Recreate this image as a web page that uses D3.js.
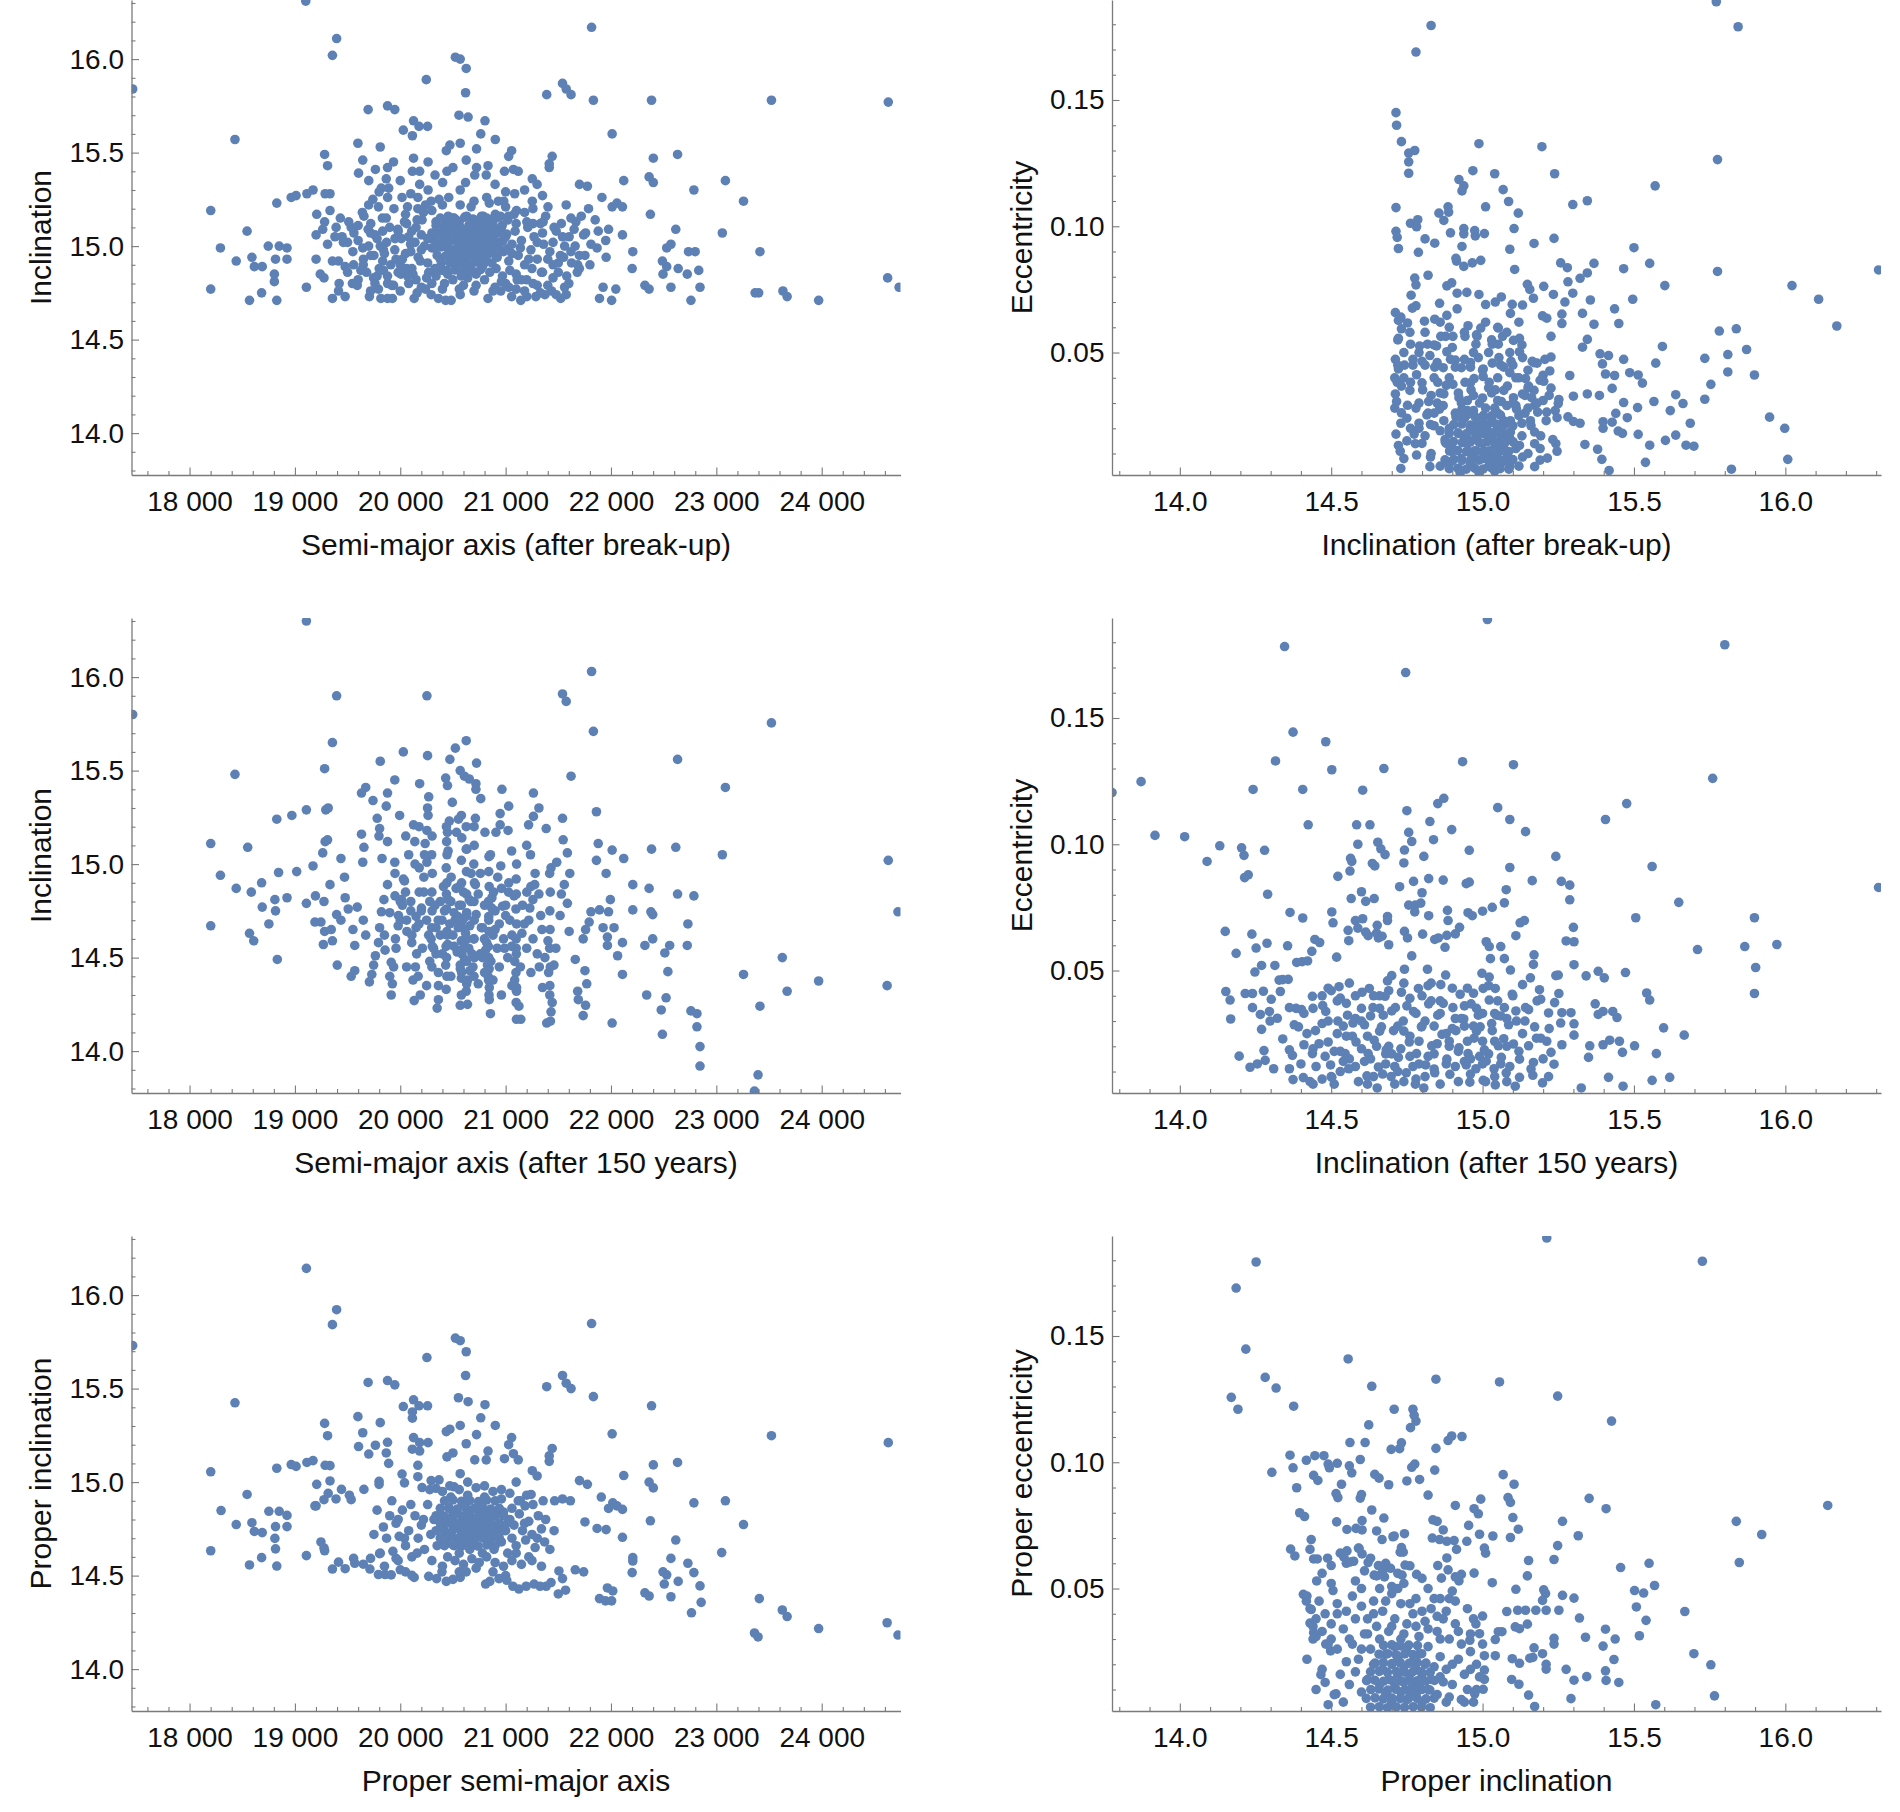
<!DOCTYPE html>
<html>
<head>
<meta charset="utf-8">
<script src="https://cdn.jsdelivr.net/npm/d3@7"></script>
<style>
  body { margin: 0; background: #fff; }
  svg { display: block; font-family: "Liberation Sans", Arial, Helvetica, sans-serif; }
</style>
</head>
<body>
<svg id="chart" width="1900" height="1812"></svg>
<script>
// ---------------------------------------------------------------
//    DATA
// ---------------------------------------------------------------

// axis ranges and ticks
const semiMajorRange = [17449, 24748];
const incRange = [13.776, 16.316];
const eccRange = [0.0015, 0.1896];
const semiMajorTicks = [18000, 19000, 20000, 21000, 22000, 23000, 24000];
const incTicks = [14.0, 14.5, 15.0, 15.5, 16.0];
const eccTicks = [0.05, 0.10, 0.15];

// semi-major axis vs inclination, after break-up
const breakupSemiMajorInc = [
[19103,16.31],[19396,16.11],[19356,16.02],[17460,15.84],[20523,16.01],[20569,16.0],[20626,15.95],[20247,15.89],[21816,16.17],[21540,15.87],[21575,15.84],[21621,15.81],[21390,15.81],[20620,15.82],[21833,15.78],[22385,15.78],[23523,15.78],[24632,15.77],[19695,15.73],[19879,15.75],[19948,15.73],[20557,15.70],[20644,15.69],[20804,15.67],[20126,15.67],[20178,15.64],[20259,15.64],[20029,15.62],[20115,15.59],[20764,15.60],[22011,15.60],[20902,15.57],[18431,15.57],[19598,15.55],[19810,15.53],[20569,15.55],[20471,15.54],[20437,15.51],[20724,15.52],[21057,15.51],[19282,15.49],[21442,15.48],[22632,15.49],[22402,15.47],[19644,15.46],[20126,15.47],[20626,15.46],[21029,15.48],[19310,15.43],[20264,15.45],[20724,15.42],[20833,15.43],[21414,15.44],[21414,15.42],[19604,15.39],[19764,15.41],[19936,15.45],[19879,15.42],[20115,15.40],[20184,15.40],[20443,15.40],[20500,15.42],[20707,15.38],[20816,15.38],[20989,15.40],[21074,15.41],[21120,15.40],[19867,15.36],[19701,15.35],[22121,15.35],[22362,15.37],[22402,15.34],[23086,15.35],[21253,15.36],[21299,15.33],[20184,15.33],[20402,15.34],[21701,15.33],[21776,15.32],[19890,15.31],[19799,15.29],[20264,15.30],[20569,15.30],[22787,15.30],[19011,15.27],[18965,15.26],[19114,15.28],[19172,15.30],[19287,15.28],[19333,15.28],[21086,15.28],[20017,15.26],[20167,15.26],[20293,15.24],[20368,15.25],[21914,15.26],[23258,15.24],[22011,15.21],[22057,15.23],[22109,15.21],[18828,15.23],[18201,15.19],[19333,15.19],[19793,15.21],[20069,15.21],[20167,15.20],[20569,15.22],[20672,15.21],[20931,15.24],[20982,15.24],[21253,15.24],[21402,15.21],[21575,15.22],[21787,15.20],[20845,15.23],[21103,15.19],[21259,15.20],[21718,15.16],[22374,15.17],[19207,15.17],[19655,15.16],[19867,15.15],[20040,15.13],[20207,15.14],[20339,15.13],[20511,15.15],[20787,15.16],[20902,15.17],[21028,15.16],[21201,15.13],[21356,15.13],[21529,15.12],[21667,15.13],[19282,15.13],[19431,15.15],[19511,15.13],[19264,15.09],[19391,15.10],[19534,15.10],[18546,15.08],[19201,15.06],[19448,15.05],[19695,15.09],[19718,15.07],[19833,15.08],[19977,15.09],[20109,15.08],[21977,15.09],[22109,15.06],[22615,15.09],[23057,15.07],[21879,15.08],[21759,15.07],[21603,15.05],[19310,15.01],[19644,14.99],[19810,15.00],[19948,14.98],[20098,15.01],[18747,15.00],[18851,15.00],[18925,14.99],[18293,14.99],[19201,14.93],[19356,14.92],[19414,14.92],[18443,14.92],[18592,14.94],[18816,14.93],[18925,14.93],[18615,14.89],[18690,14.89],[19477,14.89],[19557,14.90],[19649,14.90],[19833,14.92],[20000,14.90],[18805,14.85],[18805,14.81],[19241,14.85],[19276,14.83],[19626,14.87],[19747,14.83],[19879,14.84],[20006,14.85],[21626,14.91],[21684,14.90],[21753,14.95],[21868,14.99],[21954,14.94],[22207,14.97],[22201,14.88],[22488,14.92],[22529,14.89],[22529,14.99],[22569,15.01],[22638,14.88],[22736,14.97],[22799,14.97],[22833,14.87],[22724,14.85],[22494,14.85],[18201,14.77],[19109,14.78],[19356,14.72],[18569,14.71],[18684,14.75],[18828,14.71],[19414,14.76],[19477,14.73],[19546,14.80],[19592,14.79],[19718,14.76],[19793,14.77],[19816,14.72],[19879,14.72],[19925,14.72],[19707,14.73],[19936,14.79],[20000,14.76],[20132,14.72],[20293,14.74],[20362,14.72],[20431,14.71],[20483,14.71],[20569,14.74],[20833,14.72],[20954,14.76],[21057,14.73],[21144,14.71],[21201,14.73],[21287,14.73],[21373,14.74],[21436,14.76],[21523,14.72],[21575,14.74],[21891,14.72],[22006,14.71],[21925,14.78],[22046,14.77],[22322,14.79],[22362,14.77],[22569,14.78],[22759,14.71],[22845,14.78],[23368,14.75],[23402,14.75],[23632,14.76],[23672,14.73],[23971,14.71],[24626,14.83],[24735,14.78],[23414,14.97],[21810,15.01],
[20420,15.00],[20440,15.06],[20460,14.95],[20480,15.03],[20500,15.09],[20510,14.98],[20530,15.04],[20545,14.93],[20560,15.01],[20575,15.07],[20590,14.97],[20600,15.03],[20615,14.91],[20630,15.00],[20640,15.06],[20655,14.95],[20670,15.02],[20680,15.10],[20690,14.98],[20700,15.05],[20715,14.92],[20725,15.01],[20740,15.08],[20750,14.96],[20760,15.03],[20775,14.99],[20790,15.06],[20800,14.93],[20815,15.01],[20830,15.09],[20845,14.97],[20860,15.04],[20880,14.99],[20900,15.07],[20920,14.94],[20940,15.02],[20960,15.10],[20980,14.97],[21000,15.05],[21030,14.92],[21060,15.01],[21090,15.08],[21120,14.95],[21150,15.03],[21180,14.90],[21210,15.10],[21240,14.98],[21270,15.05],[21300,14.93],[21330,15.12],[21360,15.01],[20380,14.93],[20350,15.07],[20320,14.99],[20290,15.04],[20260,14.91],[20230,15.00],[20200,15.06],[20170,14.94],[20140,15.02],[20110,14.88],[20400,14.87],[20450,14.85],[20520,14.88],[20580,14.84],[20650,14.88],[20720,14.85],[20780,14.89],[20850,14.86],[20910,14.88],[20970,14.84],[21040,14.87],[21100,14.85],[20430,15.12],[20500,15.15],[20560,15.13],[20630,15.16],[20700,15.14],[20760,15.12],[20820,15.15],[20880,15.13],[20950,15.16],[21020,15.14],[21080,15.17],
[20200,14.78],[20300,14.80],[20400,14.77],[20600,14.79],[20700,14.76],[20900,14.78],[21000,14.80],[21100,14.77],[21200,14.82],[21300,14.79],[21450,14.83],[21500,14.86],[21600,14.80],[21680,14.86],[20150,14.82],[21350,14.86],[21520,14.95],[21450,15.02],[21560,15.00],[21620,14.97],[21480,15.08],[21400,14.93],[19700,15.00],[19750,14.95],[19850,14.96],[19950,15.04],[20050,14.96],[19600,15.03],[19550,14.97],[19500,15.02],
[20380,15.15],[20455,15.16],[20530,15.14],[20612,15.155],[20690,15.145],[20772,15.16],[20850,15.14],[20930,15.155],
[20340,15.11],[20412,15.105],[20492,15.115],[20570,15.10],[20652,15.112],[20728,15.105],[20812,15.11],[20890,15.10],[20968,15.112],
[20300,15.07],[20372,15.065],[20452,15.075],[20530,15.068],[20610,15.072],[20692,15.062],[20770,15.074],[20852,15.066],[20930,15.07],[21010,15.064],
[20330,15.03],[20410,15.028],[20492,15.034],[20572,15.026],[20650,15.032],[20732,15.028],[20810,15.034],[20890,15.03],[20972,15.026],
[20300,14.99],[20382,14.995],[20460,14.985],[20542,14.992],[20620,14.988],[20702,14.994],[20780,14.986],[20862,14.992],[20940,14.99],[21020,14.985],
[20350,14.95],[20432,14.948],[20510,14.955],[20592,14.945],[20670,14.952],[20752,14.948],[20830,14.955],[20910,14.946],
[20390,14.91],[20472,14.912],[20550,14.905],[20632,14.91],[20710,14.914],[20792,14.906],[20870,14.91],
[20440,14.87],[20520,14.872],[20602,14.866],[20680,14.87],[20762,14.874],
[19720,15.12],[19780,15.04],[19840,14.98],[19900,15.10],[19960,14.93],[20010,15.04],[20060,15.12],[20100,14.97],[20150,15.10],[20190,14.92],[20220,15.18],[20260,15.04],[21060,14.96],[21100,15.12],[21140,14.99],[21180,15.18],[21220,14.93],[21260,15.12],[21300,15.02],[21340,14.86],[21380,15.16],[21420,14.97],[21460,15.10],[21500,14.91],[21540,15.05],[21580,14.84],[21620,15.15],[21660,15.00],[21700,14.88],[21740,15.06],[20250,14.83],[20330,14.88],[20420,14.80],[20500,14.82],[20560,14.77],[20640,14.83],[20720,14.79],[20800,14.82],[20880,14.76],[20960,14.81],[21030,14.78],[21110,14.82],[21180,14.76],[21260,14.80],[21330,14.75],[21400,14.79],[21480,14.74],[21560,14.78],[19600,14.82],[19680,14.86],[19760,14.80],[19840,14.87],[19920,14.79],[20080,14.80],[20160,14.75],[20240,14.77],[20060,14.88],[19500,14.86],[19420,14.80],[19380,15.05],[19460,15.02],[19560,15.07],[19640,15.18],[19740,15.25],[19820,15.31],[20000,15.35],[20330,15.38],[20620,15.34],[20900,15.33],[21180,15.30],[21350,15.27],[20460,15.26],[20820,15.26],[21000,15.29],
[19720,14.95],[19760,15.06],[19800,14.88],[19830,15.15],[19870,15.02],[19910,14.90],[19940,15.20],[19980,15.08],[20020,14.93],[20050,15.17],[20080,15.05],[20120,14.85],[20160,15.14],[20200,14.98],[20240,15.22],[20270,14.86],[20300,15.19],[20340,14.84],[19780,14.84],[19880,14.80],[19980,14.86],[20070,14.84],[19650,14.93],[19600,15.11],[19700,15.22],[19880,15.26],[20100,15.28],[20400,15.22],[20700,15.24],[21000,15.21],[21150,14.82],[21250,14.88],[21350,15.07],[21450,14.90],[21550,14.94],[21650,15.09],[21700,14.95],[21800,14.90],[21850,15.14],[21950,15.03]
];

// inclination vs eccentricity, after break-up
const breakupIncEcc = [
[15.772,0.1889],[14.83,0.1795],[15.844,0.179],[14.78,0.169],[14.714,0.145],[14.716,0.140],[14.732,0.1335],[14.756,0.129],[14.776,0.130],[14.756,0.1255],[14.756,0.121],[14.988,0.1327],[15.196,0.1315],[14.968,0.122],[15.04,0.1208],[15.238,0.1208],[15.776,0.1264],[15.57,0.116],[14.922,0.1185],[14.938,0.116],[14.932,0.114],[15.068,0.1145],[15.086,0.1098],[15.298,0.1086],[15.346,0.1101],[15.01,0.1077],[15.118,0.1052],[14.714,0.1074],[14.856,0.1052],[14.886,0.1077],[14.888,0.1056],[14.872,0.1023],[14.786,0.1026],[14.762,0.1012],[14.782,0.0998],[14.714,0.098],[14.718,0.0956],[14.722,0.0912],[14.788,0.0897],[14.81,0.095],[14.842,0.0933],[14.894,0.0974],[14.938,0.0991],[14.938,0.097],[14.974,0.0983],[14.976,0.0962],[15.006,0.0971],[15.104,0.0991],[15.17,0.0932],[15.236,0.0952],[15.09,0.0909],[14.932,0.092],[14.912,0.0873],[14.914,0.0862],[14.938,0.0841],[14.966,0.0855],[14.994,0.0865],[15.106,0.0829],[15.258,0.0855],[15.28,0.0836],[15.368,0.0853],[15.466,0.0832],[15.552,0.0853],[15.5,0.0915],[15.776,0.0821],[16.308,0.0827],[16.022,0.0765],[16.11,0.0711],[16.17,0.0605],[15.602,0.0765],[15.496,0.0711],[15.322,0.0794],[15.346,0.0815],[15.282,0.0780],[15.202,0.0762],[15.234,0.073],[15.298,0.0735],[15.156,0.075],[15.148,0.077],[15.168,0.0715],[15.132,0.0688],[15.098,0.0691],[15.062,0.072],[15.042,0.070],[15.01,0.069],[14.988,0.073],[14.948,0.0738],[14.916,0.0735],[14.898,0.0776],[14.882,0.0764],[14.82,0.0806],[14.776,0.0795],[14.78,0.0768],[14.764,0.0727],[14.858,0.0695],[14.78,0.0685],[14.768,0.0676],[14.712,0.0658],[14.722,0.0627],[14.732,0.0594],[14.752,0.0617],[14.808,0.0624],[14.842,0.0632],[14.882,0.0647],[14.916,0.0673],[14.952,0.0606],[14.994,0.0597],[15.052,0.0597],[15.092,0.0655],[15.198,0.0645],[15.212,0.0636],[15.262,0.0652],[15.262,0.0615],[15.33,0.0655],[15.368,0.0612],[15.45,0.0615],[15.436,0.0673],[15.356,0.0708],[15.272,0.070],[15.226,0.0564],[15.346,0.0552],[15.33,0.0521],[15.388,0.0495],[15.416,0.0488],[15.396,0.0455],[15.466,0.0473],[15.572,0.0458],[15.594,0.0524],[15.782,0.0585],[15.838,0.0594],[15.872,0.0512],[15.81,0.0492],[15.734,0.0477],[15.81,0.0423],[15.898,0.0411],[15.754,0.0374],[15.734,0.0315],[15.638,0.0333],[15.662,0.0298],[15.62,0.027],[15.686,0.022],[15.638,0.0173],[15.604,0.0152],[15.672,0.0133],[15.698,0.0129],[15.948,0.0244],[15.998,0.020],[16.008,0.0077],[15.822,0.0038],[15.538,0.0065],[15.552,0.0133],[15.514,0.0176],[15.466,0.0302],[15.512,0.0282],[15.566,0.0306],[15.528,0.0379],[15.514,0.0411],[15.486,0.042],[15.436,0.0409],[15.406,0.0415],[15.428,0.0358],[15.386,0.033],[15.346,0.0336],[15.3,0.0327],[15.288,0.0409],[15.44,0.0259],[15.478,0.0242],[15.398,0.0226],[15.428,0.0224],[15.398,0.020],[15.448,0.0189],[15.462,0.018],[15.338,0.0136],[15.38,0.0117],[15.394,0.0077],[15.418,0.0033],[15.322,0.022],[15.3,0.0227],[15.282,0.0245],[15.246,0.0242],[15.25,0.0298],[15.252,0.0314],[15.226,0.0359],[15.202,0.0386],[15.222,0.0427],[15.19,0.039],[15.226,0.0482],[15.206,0.0473],[15.18,0.0458],[15.164,0.0465],[15.132,0.048],[15.122,0.0503],[15.102,0.0548],[15.122,0.0556],[15.066,0.0564],[15.052,0.0533],[15.032,0.0533],[14.978,0.0533],[14.982,0.0564],[14.942,0.0564],[14.902,0.0564],[14.878,0.0564],[14.862,0.0564],[14.848,0.0526],[14.818,0.0533],[14.792,0.0526],[14.762,0.0533],[14.722,0.0556],[14.712,0.0473],[14.722,0.0435],[14.742,0.045],[14.77,0.0473],[14.80,0.0465],[14.826,0.0488],[14.842,0.0442],[14.882,0.0503],[14.894,0.0473],[14.91,0.0442],[14.94,0.0473],[14.96,0.0442],[14.986,0.048],[15.002,0.0435],[15.032,0.0458],[15.054,0.048],[15.07,0.0442],[15.09,0.042],[15.094,0.0465],[15.142,0.0397],[15.152,0.0367],[15.132,0.0336],[15.162,0.0321],[15.172,0.0291],[15.182,0.0264],[15.212,0.0264],[15.158,0.023],[15.172,0.0185],[15.192,0.017],[15.232,0.0155],[15.242,0.0139],[15.172,0.0139],[15.122,0.0132],[15.132,0.0086],[15.172,0.0048],[15.19,0.0074],[15.214,0.0082],[15.246,0.0109],[14.712,0.0336],[14.716,0.0306],[14.714,0.0177],[14.722,0.0132],[14.728,0.0109],[14.73,0.0041],[14.718,0.0382],[14.732,0.0367],[14.762,0.0382],[14.782,0.0412],[14.732,0.0261],[14.752,0.0291],[14.762,0.020],[14.774,0.0177],[14.778,0.0139],[14.782,0.0094],[14.802,0.0352],[14.822,0.0306],[14.816,0.0253],[14.828,0.0215],[14.828,0.0086],[14.826,0.0048],[14.852,0.0382],[14.872,0.0336],[14.858,0.0276],[14.872,0.023],[14.876,0.0155],[14.882,0.0064],[14.898,0.0109],[14.926,0.0024],[14.902,0.0374],[14.922,0.0321],[14.932,0.0276],[14.912,0.0245],[14.942,0.0382],[14.972,0.0397],[14.962,0.0352],[15.002,0.0405],[15.022,0.0382],[15.042,0.0352],[15.062,0.0306],[15.082,0.0367],[15.102,0.0321],[15.112,0.0276],[15.092,0.023],[15.092,0.0185],[15.072,0.0139],[15.052,0.0079],[15.032,0.0048],[14.988,0.0026],[14.962,0.0064],[14.952,0.0109],[14.952,0.0155],[14.982,0.023],
[14.90,0.012],[14.92,0.018],[14.93,0.008],[14.94,0.024],[14.95,0.014],[14.96,0.020],[14.96,0.006],[14.97,0.027],[14.98,0.011],[14.98,0.017],[14.99,0.023],[15.00,0.008],[15.00,0.014],[15.01,0.020],[15.01,0.028],[15.02,0.005],[15.02,0.011],[15.03,0.017],[15.03,0.024],[15.04,0.009],[15.04,0.014],[15.05,0.020],[15.05,0.026],[15.06,0.012],[15.06,0.006],[15.07,0.018],[15.07,0.023],[15.08,0.010],[15.09,0.016],[15.10,0.021],[14.91,0.026],[14.93,0.030],[14.95,0.031],[14.97,0.033],[15.00,0.032],[15.03,0.034],[15.05,0.031],[15.08,0.029],[14.89,0.020],[14.88,0.014],[14.90,0.007],[14.92,0.004],[14.99,0.003],[15.04,0.003],[15.09,0.005],[15.11,0.012],[15.12,0.025],[14.94,0.016],[14.98,0.020],[15.02,0.016],[15.00,0.024],[15.06,0.017],[14.97,0.009],[15.03,0.007],
[14.74,0.040],[14.76,0.035],[14.79,0.030],[14.81,0.045],[14.84,0.040],[14.86,0.034],[14.75,0.024],[14.79,0.020],[14.80,0.014],[14.84,0.026],[14.86,0.019],[14.87,0.044],[14.89,0.040],[14.96,0.046],[15.02,0.050],[15.05,0.040],[15.10,0.045],[15.12,0.040],[15.15,0.043],[15.17,0.035],[15.20,0.031],[15.21,0.023],[15.19,0.012],[15.13,0.022],[15.15,0.028],
[14.890,0.0040],[14.919,0.0042],[14.946,0.0038],[14.975,0.0041],[15.002,0.0039],[15.031,0.0042],[15.058,0.0040],[15.087,0.0038],
[14.876,0.0075],[14.905,0.0077],[14.932,0.0073],[14.961,0.0076],[14.988,0.0074],[15.017,0.0077],[15.044,0.0075],[15.073,0.0073],[15.100,0.0076],
[14.891,0.0110],[14.918,0.0112],[14.947,0.0108],[14.974,0.0111],[15.003,0.0109],[15.030,0.0112],[15.059,0.0110],[15.086,0.0108],
[14.877,0.0145],[14.904,0.0147],[14.933,0.0143],[14.960,0.0146],[14.989,0.0144],[15.016,0.0147],[15.045,0.0145],[15.072,0.0143],[15.101,0.0146],
[14.890,0.0180],[14.919,0.0182],[14.946,0.0178],[14.975,0.0181],[15.002,0.0179],[15.031,0.0182],[15.058,0.0180],[15.087,0.0178],
[14.905,0.0215],[14.932,0.0217],[14.961,0.0213],[14.988,0.0216],[15.017,0.0214],[15.044,0.0217],[15.073,0.0215],
[14.918,0.0250],[14.947,0.0252],[14.974,0.0248],[15.003,0.0251],[15.030,0.0249],[15.059,0.0252],
[14.78,0.028],[14.80,0.038],[14.83,0.033],[14.85,0.046],[14.87,0.029],[14.88,0.037],[14.90,0.052],[14.92,0.034],[14.93,0.044],[14.95,0.027],[14.96,0.038],[14.97,0.050],[14.99,0.030],[15.00,0.043],[15.02,0.036],[15.03,0.055],[15.04,0.028],[15.06,0.045],[15.07,0.035],[15.09,0.050],[15.10,0.030],[15.11,0.040],[15.13,0.053],[15.14,0.026],[15.15,0.036],[15.17,0.046],[15.18,0.030],[15.20,0.041],[15.22,0.033],[15.24,0.027],[14.79,0.050],[14.81,0.058],[14.84,0.053],[14.86,0.062],[14.89,0.060],[14.91,0.047],[14.94,0.058],[14.98,0.057],[15.01,0.062],[15.05,0.060],[15.08,0.058],[15.12,0.062],[14.77,0.045],[14.79,0.022],[14.81,0.017],[14.83,0.010],[14.85,0.030],[14.86,0.005],[14.84,0.021],[14.82,0.026],[14.74,0.050],[14.73,0.022],[14.75,0.015],[14.74,0.008],[14.72,0.045],[14.71,0.028],[14.72,0.055],[14.71,0.040],[14.73,0.064],[14.76,0.058],[15.13,0.017],[15.15,0.010],[15.16,0.021],[15.12,0.005],[15.11,0.029],[15.14,0.033]
];

// semi-major axis vs inclination, after 150 years
const yr150SemiMajorInc = [
[19109,16.30],[17460,15.80],[19396,15.90],[20253,15.90],[21816,16.03],[21540,15.91],[21575,15.87],[21833,15.71],[23523,15.755],[19356,15.65],[20626,15.66],[20523,15.62],[20029,15.60],[19810,15.55],[20259,15.58],[20471,15.56],[20724,15.54],[22632,15.56],[18431,15.48],[19282,15.51],[20569,15.50],[21621,15.47],[20431,15.46],[20609,15.47],[20655,15.455],[19948,15.45],[20448,15.42],[20184,15.43],[20718,15.43],[20718,15.40],[23086,15.41],[20965,15.40],[19672,15.41],[19632,15.38],[19879,15.38],[21264,15.38],[20270,15.36],[20764,15.35],[19741,15.34],[20494,15.33],[19867,15.31],[21029,15.31],[21316,15.30],[19109,15.29],[19293,15.29],[19316,15.30],[20259,15.30],[21862,15.28],[20264,15.26],[18828,15.24],[18971,15.26],[19994,15.26],[20948,15.27],[21540,15.245],[20466,15.23],[20552,15.24],[20713,15.245],[21264,15.255],[20126,15.21],[20178,15.20],[20253,15.18],[19781,15.245],[19804,15.19],[20701,15.20],[20948,15.21],[21218,15.21],[21385,15.19],[19632,15.16],[19798,15.15],[20448,15.17],[20534,15.17],[20804,15.17],[20908,15.17],[21023,15.18],[21546,15.13],[21879,15.11],[18201,15.11],[19310,15.13],[19287,15.12],[19655,15.09],[19879,15.12],[20052,15.15],[20138,15.12],[20236,15.11],[22011,15.075],[22385,15.08],[22615,15.09],[23057,15.05],[18552,15.09],[19264,15.06],[19437,15.03],[19644,15.01],[19827,15.03],[19948,15.01],[20454,15.07],[20626,15.08],[20856,15.05],[21057,15.07],[21236,15.05],[21586,15.06],[21862,15.02],[22121,15.03],[24632,15.02],[19172,14.99],[19017,14.96],[18845,14.955],[18293,14.94],[21954,14.95],[21485,15.01],[21609,14.95],[21431,14.98],[18925,14.82],[18443,14.87],[18586,14.85],[18684,14.90],[18690,14.77],[18810,14.81],[18816,14.75],[18753,14.68],[18201,14.67],[18569,14.63],[18609,14.59],[18833,14.49],[19109,14.79],[19195,14.83],[19276,14.80],[19333,14.89],[19190,14.69],[19247,14.69],[19282,14.64],[19270,14.57],[19356,14.59],[19345,14.65],[19396,14.73],[19402,14.46],[19437,14.70],[19471,14.93],[19477,14.82],[19506,14.76],[19534,14.40],[19568,14.43],[19568,14.565],[19551,14.65],[19592,14.77],[19649,14.70],[19672,14.62],[19707,14.37],[19730,14.41],[19747,14.46],[19764,14.51],[19793,14.58],[19804,14.66],[19821,14.745],[19845,14.81],[19879,14.89],[19856,14.54],[19914,14.475],[19937,14.45],[19914,14.30],[19925,14.36],[19954,14.60],[19983,14.725],[20012,14.81],[20040,14.91],[20063,14.64],[20109,14.58],[20121,14.38],[20132,14.27],[20144,14.45],[20155,14.52],[20178,14.68],[20201,14.765],[20224,14.85],[20224,14.93],[20253,15.01],[20293,14.60],[20316,14.55],[20339,14.52],[20362,14.42],[20362,14.35],[20362,14.275],[20350,14.23],[20396,14.70],[20431,14.46],[20443,14.64],[20454,14.81],[20483,14.93],[20511,14.56],[20546,14.72],[20569,14.245],[20580,14.39],[20569,14.46],[20586,14.52],[20603,14.58],[20626,14.32],[20638,14.25],[20655,14.81],[20672,14.95],[20713,14.89],[20770,14.66],[20799,14.60],[20810,14.54],[20827,14.46],[20833,14.40],[20845,14.34],[20845,14.275],[20856,14.20],[20868,14.765],[20885,14.85],[20925,14.93],[20954,14.99],[20971,14.775],[21000,14.725],[21028,14.85],[21057,14.56],[21086,14.48],[21086,14.38],[21103,14.32],[21126,14.24],[21103,14.17],[21144,14.17],[21155,14.63],[21178,14.68],[21201,14.85],[21230,14.765],[21259,14.81],[21276,14.89],[21316,14.84],[21333,14.725],[21345,14.65],[21350,14.34],[21373,14.50],[21402,14.59],[21408,14.42],[21419,14.30],[21431,14.21],[21390,14.15],[21425,14.16],[21442,14.26],[21459,14.46],[21477,14.55],[21517,14.725],[21529,14.84],[21557,14.89],[21586,14.79],[21603,14.64],[21661,14.49],[21684,14.32],[21690,14.275],[21736,14.19],[21759,14.245],[21770,14.36],[21753,14.43],[21736,14.60],[21759,14.65],[21793,14.69],[21810,14.745],[21891,14.755],[21925,14.66],[21966,14.61],[21966,14.565],[21977,14.745],[21994,14.81],[22029,14.66],[22063,14.51],[22109,14.58],[22109,14.41],[22011,14.15],[22207,14.89],[22207,14.755],[22362,14.87],[22379,14.745],[22396,14.73],[22322,14.565],[22396,14.60],[22339,14.30],[22511,14.525],[22557,14.565],[22540,14.425],[22523,14.285],[22477,14.22],[22488,14.09],[22632,14.84],[22730,14.68],[22724,14.565],[22787,14.83],[22759,14.215],[22816,14.20],[22816,14.13],[22845,14.024],[22845,13.92],[23258,14.41],[23414,14.24],[23396,13.873],[23362,13.786],[23626,14.50],[23672,14.32],[23971,14.375],[24621,14.35],[24724,14.745],
[20330,14.78],[20360,14.70],[20380,14.62],[20410,14.88],[20420,14.75],[20450,14.57],[20470,14.68],[20480,14.80],[20500,14.62],[20510,14.74],[20530,14.87],[20540,14.53],[20550,14.66],[20560,14.78],[20570,14.44],[20580,14.59],[20590,14.70],[20600,14.85],[20610,14.49],[20620,14.63],[20630,14.74],[20640,14.38],[20650,14.55],[20660,14.67],[20670,14.80],[20690,14.45],[20700,14.60],[20720,14.73],[20740,14.84],[20760,14.52],[20780,14.66],[20800,14.78],[20820,14.58],[20840,14.70],[20860,14.48],[20870,14.82],[20880,14.62],[20900,14.75],[20920,14.55],[20940,14.68],[20960,14.87],[20980,14.60],[21000,14.78],[21020,14.50],[21040,14.70],[21060,14.62],[21080,14.83],[21100,14.55],[20250,14.70],[20270,14.62],[20280,14.80],[20200,14.75],[20180,14.85],[20150,14.72],[20100,14.80],[20060,14.70],[20020,14.78],[19980,14.67],[19950,14.83],[19900,14.74],
[20440,14.50],[20435,14.56],[20445,14.62],[20440,14.76],[20438,14.84],[20442,14.90],[20436,14.98],[20444,15.05],[20440,15.12],[20438,15.20],[20442,14.40],[20436,14.33],
[20580,14.30],[20630,14.36],[20582,14.42],[20628,14.48],[20578,14.54],[20632,14.60],[20584,14.66],[20626,14.72],[20580,14.78],[20630,14.84],[20582,14.90],[20628,14.96],[20580,15.02],[20632,15.08],[20584,15.14],[20626,15.20],[20580,15.26],
[20842,14.30],[20838,14.38],[20844,14.44],[20840,14.50],[20836,14.56],[20842,14.64],[20840,14.72],[20838,14.80],[20844,14.88],[20840,14.96],[20842,15.04],
[20700,14.40],[20704,14.50],[20698,14.60],[20702,14.70],[20700,14.80],[20704,14.90],[20698,15.00],[20702,15.10],
[21100,14.26],[21104,14.34],[21098,14.42],[21102,14.52],[21100,14.60],[21104,14.68],[21098,14.76],[21102,14.84],[21100,14.92],[21104,15.00],
[20300,14.45],[20304,14.56],[20298,14.66],[20302,14.75],[20300,14.85],[20304,14.95],[20298,15.05],[20302,15.15],
[21420,14.35],[21424,14.45],[21418,14.55],[21422,14.65],[21420,14.75],[21424,14.85],[21418,14.95],
[20050,14.85],[20100,14.75],[20150,14.66],[20000,14.70],[19950,14.95],[20080,15.05],[20180,14.98],[21220,14.70],[21260,14.60],[21280,14.95],[21300,14.52],[21240,14.42],[21200,15.10],
[20060,14.45],[20110,14.62],[20170,14.40],[20210,14.55],[20250,14.35],[20280,14.48],[20340,14.66],[20380,14.80],[20400,14.52],[20480,14.40],[20520,14.70],[20560,14.88],[20660,14.43],[20680,14.52],[20740,14.36],[20760,14.95],[20780,14.50],[20800,14.42],[20880,14.38],[20900,14.65],[20940,14.45],[20960,14.30],[20990,14.55],[21030,14.90],[21060,14.35],[21140,14.45],[21160,14.78],[21200,14.55],[21240,14.88],[21320,14.45],[19850,14.62],[19900,14.40],[19960,14.55],[20000,14.80],[20030,14.92],[20140,15.00],[20190,14.30],[20230,15.05]
];

// inclination vs eccentricity, after 150 years
const yr150IncEcc = [
[15.016,0.189],[14.346,0.1783],[15.80,0.179],[14.746,0.168],[14.374,0.1444],[14.482,0.1406],[14.316,0.133],[14.502,0.1295],[14.674,0.130],[14.934,0.1327],[15.102,0.1315],[15.76,0.1261],[13.872,0.1248],[13.776,0.1205],[14.242,0.1217],[14.406,0.1217],[14.604,0.1214],[14.872,0.1182],[14.852,0.1161],[15.05,0.1145],[14.75,0.1133],[15.476,0.1161],[15.406,0.1098],[15.09,0.1098],[14.424,0.1077],[14.584,0.1077],[14.628,0.1077],[14.826,0.109],[14.898,0.1058],[15.142,0.105],[14.756,0.1047],[13.918,0.1035],[14.016,0.103],[14.132,0.0994],[14.204,0.0986],[14.212,0.0956],[14.28,0.0976],[14.09,0.0932],[14.588,0.1],[14.654,0.1008],[14.664,0.0982],[14.678,0.0959],[14.766,0.1011],[14.838,0.1018],[14.742,0.0977],[14.806,0.0952],[14.74,0.0926],[14.956,0.0976],[14.564,0.0944],[14.568,0.0932],[14.636,0.0924],[14.644,0.0914],[14.522,0.0873],[14.214,0.0868],[14.226,0.0879],[14.29,0.0802],[14.562,0.0894],[14.726,0.0832],[14.772,0.0853],[14.822,0.0864],[14.87,0.0858],[14.80,0.0808],[14.946,0.0844],[14.956,0.085],[15.09,0.0908],[15.242,0.0952],[15.56,0.0912],[15.164,0.0856],[15.078,0.0820],[15.26,0.0853],[15.288,0.0838],[15.288,0.078],[15.072,0.0768],[15.032,0.075],[15.0,0.0735],[14.966,0.0717],[14.952,0.0729],[14.884,0.0738],[14.778,0.0759],[14.756,0.0759],[14.796,0.0767],[14.776,0.0732],[14.822,0.0717],[14.886,0.0698],[14.686,0.0714],[14.686,0.0698],[14.652,0.0679],[14.604,0.0705],[14.6,0.0812],[14.614,0.0774],[14.642,0.0785],[14.566,0.0785],[14.58,0.0698],[14.588,0.0668],[14.502,0.0732],[14.506,0.0689],[14.364,0.073],[14.406,0.0708],[14.15,0.0655],[14.238,0.0644],[14.288,0.0608],[14.252,0.0589],[14.186,0.0568],[14.356,0.0598],[14.446,0.0623],[14.462,0.0611],[14.436,0.0576],[14.404,0.0535],[14.422,0.0538],[14.386,0.0532],[14.27,0.052],[14.314,0.052],[14.248,0.0494],[14.518,0.0553],[14.558,0.0618],[14.556,0.0659],[14.614,0.0652],[14.622,0.0638],[14.65,0.0648],[14.656,0.0629],[14.668,0.0636],[14.69,0.0602],[14.742,0.0655],[14.752,0.0629],[14.802,0.0644],[14.842,0.0623],[14.854,0.0629],[14.882,0.0639],[14.876,0.0592],[14.91,0.0645],[14.924,0.0671],[15.012,0.0614],[15.022,0.0595],[15.06,0.0595],[15.11,0.0638],[15.124,0.0689],[15.138,0.0698],[15.30,0.0671],[15.276,0.0617],[15.302,0.0614],[15.302,0.0523],[15.506,0.0709],[15.648,0.077],[15.898,0.0709],[15.71,0.0583],[15.866,0.0595],[15.972,0.0603],[15.902,0.0512],[15.898,0.0409],[16.308,0.0829],[15.472,0.0492],[15.382,0.0497],[15.402,0.0471],[15.342,0.0479],[15.17,0.0562],[15.168,0.0524],[15.072,0.0547],[15.026,0.0547],[15.092,0.0502],[15.022,0.0474],[14.998,0.0489],[15.002,0.0429],[15.042,0.0429],[15.242,0.048],[15.25,0.0482],[15.252,0.0409],[15.238,0.0373],[15.188,0.0424],[15.192,0.0386],[15.158,0.0471],[15.132,0.0444],[15.152,0.0345],[15.218,0.0332],[15.262,0.0333],[15.292,0.0333],[15.258,0.0292],[15.302,0.0289],[15.372,0.0368],[15.382,0.0326],[15.398,0.0338],[15.43,0.0338],[15.444,0.0314],[15.542,0.0411],[15.552,0.0383],[15.598,0.0273],[15.666,0.0244],[15.42,0.0224],[15.452,0.022],[15.398,0.0206],[15.354,0.0202],[15.502,0.0202],[15.462,0.0176],[15.574,0.0171],[15.35,0.0156],[15.416,0.0077],[15.464,0.0042],[15.326,0.0035],[15.56,0.0065],[15.618,0.0077],[15.302,0.0244],[15.262,0.0206],[15.226,0.0176],[15.236,0.0129],[15.218,0.0080],[15.198,0.0055],[15.166,0.0085],[15.168,0.0136],[15.122,0.0077],[15.108,0.0042],[15.042,0.0047],[15.002,0.0065],[14.958,0.0058],[14.168,0.0308],[14.152,0.0417],[14.166,0.0383],[14.196,0.0161],[14.232,0.0117],[14.256,0.013],[14.278,0.0183],[14.282,0.0144],[14.31,0.0111],[14.216,0.0409],[14.24,0.0409],[14.276,0.0418],[14.24,0.0353],[14.266,0.0326],[14.27,0.0267],[14.296,0.0338],[14.298,0.03],[14.322,0.0311],[14.302,0.0386],[14.332,0.0417],[14.34,0.0464],[14.328,0.0462],[14.358,0.0465],[14.362,0.0353],[14.384,0.035],[14.402,0.0345],[14.378,0.0285],[14.392,0.0277],[14.34,0.0229],[14.362,0.0186],[14.372,0.0164],[14.362,0.0111],[14.374,0.0068],[14.408,0.0076],[14.41,0.0206],[14.44,0.005],[14.438,0.0171],[14.448,0.0262],[14.472,0.0361],[14.438,0.0398],[14.482,0.0338],[14.49,0.0217],[14.498,0.0126],[14.502,0.0077],[14.51,0.005],[14.522,0.030],[14.53,0.0391],[14.526,0.0436],[14.554,0.0323],[14.546,0.0171],[14.558,0.0111],[14.572,0.0292],[14.582,0.0217],[14.602,0.0414],[14.61,0.0285],[14.618,0.0083],[14.622,0.0171],[14.626,0.0429],[14.638,0.0353],[14.642,0.0224],[14.652,0.0035],[14.656,0.0118],[14.666,0.0277],[14.672,0.0323],[14.678,0.0398],[14.682,0.0186],[14.686,0.0459],[14.698,0.008],[14.706,0.0262],[14.712,0.0353],[14.722,0.0156],[14.732,0.0414],[14.738,0.03],[14.742,0.0505],[14.748,0.0095],[14.758,0.0217],[14.766,0.0558],[14.772,0.0338],[14.778,0.005],[14.782,0.0171],[14.788,0.0429],[14.798,0.0277],[14.806,0.0035],[14.812,0.0126],[14.818,0.0505],[14.822,0.0368],[14.832,0.0202],[14.842,0.0095],[14.852,0.0323],[14.862,0.0444],[14.866,0.0247],[14.878,0.0482],[14.882,0.0149],[14.892,0.0089],[14.902,0.0353],[14.912,0.0262],[14.922,0.0194],[14.926,0.0406],[14.938,0.0308],[14.946,0.0126],[14.952,0.0171],[14.962,0.0368],[14.972,0.0232],[14.978,0.0111],[14.986,0.0323],[14.992,0.0277],[15.006,0.0186],[15.012,0.0141],[15.022,0.0383],[15.032,0.0262],[15.038,0.0111],[15.046,0.0323],[15.052,0.0202],[15.062,0.0156],[15.072,0.0353],[15.078,0.0095],[15.086,0.0285],[15.098,0.0406],[15.102,0.0209],[15.112,0.03],[15.122,0.0149],[15.132,0.025],[15.142,0.0353],[15.152,0.0202],[15.172,0.0277],[15.178,0.0232],[15.192,0.0232],[15.212,0.022],
[14.55,0.024],[14.58,0.012],[14.60,0.035],[14.63,0.015],[14.66,0.040],[14.69,0.020],[14.71,0.012],[14.74,0.026],[14.76,0.039],[14.79,0.013],[14.81,0.030],[14.84,0.017],[14.86,0.038],[14.89,0.022],[14.91,0.031],[14.94,0.014],[14.97,0.028],[15.00,0.022],[15.04,0.033],[15.08,0.020],[14.47,0.029],[14.50,0.042],[14.53,0.018],[14.70,0.048],[14.83,0.045],[14.95,0.043],
[14.42,0.025],[14.45,0.012],[14.47,0.040],[14.49,0.030],[14.51,0.018],[14.53,0.010],[14.55,0.037],[14.57,0.024],[14.59,0.006],[14.61,0.014],[14.63,0.032],[14.65,0.020],[14.67,0.009],[14.69,0.042],[14.70,0.017],[14.72,0.028],[14.74,0.006],[14.75,0.036],[14.77,0.012],[14.79,0.022],[14.80,0.040],[14.82,0.016],[14.84,0.028],[14.86,0.005],[14.87,0.037],[14.89,0.020],[14.91,0.012],[14.93,0.031],[14.95,0.022],[14.97,0.041],[14.99,0.016],[15.01,0.006],[15.03,0.029],[15.05,0.038],[15.07,0.023],[15.09,0.012],[15.11,0.034],[14.46,0.021],[14.50,0.008],[14.54,0.028],[14.58,0.040],[14.62,0.024],[14.66,0.035],[14.68,0.013],[14.71,0.005],[14.73,0.019],[14.76,0.024],[14.78,0.033],[14.81,0.008],[14.83,0.038],[14.85,0.021],[14.88,0.013],[14.90,0.027],[14.92,0.006],[14.94,0.036],[14.96,0.015],[14.98,0.026],[15.00,0.033],[15.02,0.017],[15.04,0.008],[15.06,0.013],[15.08,0.031],[14.44,0.035],[14.48,0.016],[14.52,0.038],[14.56,0.015],[14.60,0.030],[14.64,0.008],[14.40,0.013],[14.43,0.006],
[14.41,0.033],[14.44,0.019],[14.47,0.007],[14.49,0.043],[14.52,0.025],[14.54,0.014],[14.56,0.045],[14.58,0.031],[14.60,0.019],[14.62,0.005],[14.64,0.040],[14.66,0.026],[14.68,0.017],[14.70,0.034],[14.72,0.010],[14.74,0.045],[14.76,0.016],[14.78,0.007],[14.80,0.028],[14.82,0.044],[14.84,0.011],[14.86,0.033],[14.88,0.025],[14.90,0.043],[14.92,0.018],[14.94,0.028],[14.96,0.009],[14.98,0.035],[15.00,0.013],[15.02,0.044],[15.04,0.022],[15.06,0.032],[15.08,0.006],[15.10,0.040],[15.12,0.018],[15.14,0.030],[15.16,0.011],[15.18,0.038],[15.20,0.015],[15.22,0.027]
];

// proper semi-major axis vs proper inclination
const properSemiMajorInc = [
[19109,16.143],[19396,15.922],[19356,15.842],[17460,15.73],[21816,15.848],[20523,15.77],[20569,15.756],[20626,15.697],[20253,15.666],[20620,15.57],[21540,15.57],[21575,15.529],[21621,15.50],[21390,15.51],[21833,15.457],[19695,15.533],[19879,15.543],[19948,15.52],[18431,15.424],[20552,15.451],[20644,15.43],[20804,15.414],[20126,15.44],[20178,15.408],[20259,15.408],[20029,15.404],[20115,15.375],[20115,15.342],[20764,15.344],[22385,15.408],[19598,15.35],[19282,15.314],[19810,15.318],[20569,15.303],[20471,15.283],[20437,15.27],[20902,15.303],[22011,15.258],[23523,15.248],[19310,15.248],[19644,15.264],[20126,15.238],[20724,15.254],[21057,15.238],[24632,15.211],[19604,15.19],[19764,15.197],[19879,15.213],[20184,15.211],[20264,15.211],[20626,15.205],[21029,15.20],[21442,15.18],[21414,15.14],[21414,15.111],[19701,15.15],[19867,15.156],[20500,15.156],[20443,15.135],[20115,15.176],[20184,15.166],[20707,15.119],[20816,15.119],[20833,15.166],[20989,15.125],[21074,15.152],[21120,15.119],[22632,15.105],[22402,15.092],[19114,15.105],[19172,15.115],[19011,15.084],[18965,15.094],[19287,15.09],[19333,15.088],[19890,15.10],[20167,15.09],[18201,15.055],[18828,15.074],[22121,15.035],[21253,15.061],[21299,15.033],[19799,15.004],[19799,14.988],[20017,15.043],[20167,15.029],[20293,15.008],[20368,15.012],[20569,15.045],[21701,15.008],[21776,14.988],[22362,15.0],[22402,14.969],[19207,14.988],[19333,15.006],[19655,14.961],[20040,14.996],[20207,14.971],[20339,14.967],[20511,14.975],[22787,14.889],[23086,14.90],[21908,14.92],[22109,14.854],[22017,14.889],[21977,14.859],[22057,14.873],[22374,14.793],[23258,14.773],[22615,14.69],[23051,14.623],[22109,14.705],[21868,14.752],[21753,14.787],[21954,14.746],[21615,14.90],[21540,14.91],[21465,14.90],[21356,14.90],[21242,14.934],[21184,14.873],[19316,14.94],[19442,14.961],[19517,14.93],[19276,14.906],[19390,14.91],[19534,14.906],[18546,14.934],[19201,14.873],[18299,14.848],[18753,14.844],[18851,14.844],[18925,14.822],[18443,14.773],[18592,14.783],[18816,14.762],[18925,14.762],[18615,14.736],[18690,14.73],[18810,14.699],[18816,14.643],[18201,14.633],[18569,14.557],[18684,14.596],[18828,14.551],[19109,14.607],[19190,14.873],[19247,14.68],[19276,14.648],[19282,14.633],[19356,14.535],[19414,14.572],[19477,14.537],[19557,14.592],[19568,14.566],[19649,14.561],[19712,14.535],[19793,14.506],[19856,14.506],[19914,14.504],[19718,14.592],[19804,14.617],[19960,14.592],[20000,14.531],[20109,14.502],[20132,14.49],[20270,14.496],[20345,14.484],[20396,14.52],[20437,14.469],[20500,14.48],[20569,14.49],[20626,14.52],[20810,14.455],[20850,14.469],[20937,14.484],[21011,14.475],[21069,14.443],[21126,14.428],[21195,14.443],[21270,14.455],[21327,14.443],[21385,14.443],[21431,14.463],[21500,14.402],[21569,14.422],[21540,14.484],[21506,14.525],[21661,14.531],[21741,14.52],[21891,14.377],[21948,14.365],[22006,14.365],[21966,14.434],[22017,14.418],[22322,14.408],[22362,14.391],[22494,14.52],[22506,14.455],[22529,14.504],[22569,14.592],[22569,14.387],[22638,14.469],[22730,14.566],[22787,14.516],[22845,14.445],[22856,14.357],[22764,14.301],[22201,14.516],[22207,14.596],[22207,14.578],[23408,14.377],[23362,14.193],[23396,14.172],[23626,14.316],[23672,14.281],[23971,14.217],[24621,14.248],[24724,14.182],
[20380,14.75],[20400,14.82],[20420,14.68],[20440,14.78],[20460,14.86],[20480,14.72],[20500,14.80],[20510,14.66],[20530,14.76],[20540,14.84],[20550,14.70],[20560,14.62],[20570,14.78],[20580,14.73],[20590,14.88],[20600,14.67],[20610,14.80],[20620,14.74],[20630,14.70],[20640,14.84],[20650,14.77],[20660,14.64],[20670,14.72],[20680,14.81],[20690,14.69],[20700,14.76],[20710,14.86],[20720,14.73],[20730,14.66],[20740,14.79],[20750,14.71],[20760,14.83],[20770,14.75],[20780,14.62],[20790,14.70],[20800,14.78],[20810,14.85],[20820,14.73],[20830,14.67],[20850,14.80],[20870,14.74],[20890,14.64],[20900,14.83],[20920,14.71],[20940,14.77],[20960,14.68],[20980,14.84],[21000,14.74],[21020,14.62],[21040,14.80],[21060,14.70],[21080,14.77],[21100,14.66],[21130,14.83],[21160,14.74],[21190,14.69],[21220,14.79],[21250,14.72],[21280,14.65],[21310,14.82],[21340,14.75],[21370,14.68],[20350,14.66],[20320,14.80],[20290,14.72],[20260,14.88],[20230,14.64],[20200,14.77],[20170,14.70],[20140,14.82],[20110,14.60],[20080,14.74],[20050,14.66],[20020,14.85],[19990,14.71],[19960,14.78],[19930,14.63],[19900,14.82],[19870,14.70],[19840,14.76],[19810,14.62],[19780,14.85],[19750,14.72],[20450,14.60],[20520,14.58],[20600,14.56],[20680,14.59],[20750,14.57],[20820,14.60],[20900,14.57],[20980,14.55],[21060,14.58],[21150,14.56],[21250,14.58],[20400,14.95],[20480,14.92],[20560,14.96],[20640,14.93],[20720,14.97],[20800,14.92],[20880,14.95],[20960,14.91],[21040,14.94],[21120,14.90],[21200,14.93],
[20420,14.90],[20500,14.905],[20582,14.898],[20660,14.902],[20742,14.896],[20820,14.904],[20900,14.90],
[20380,14.86],[20462,14.864],[20540,14.856],[20622,14.862],[20700,14.858],[20782,14.864],[20860,14.856],[20940,14.86],
[20340,14.82],[20422,14.816],[20500,14.824],[20582,14.818],[20660,14.822],[20742,14.816],[20820,14.824],[20902,14.818],[20980,14.82],
[20380,14.78],[20460,14.784],[20542,14.776],[20620,14.782],[20702,14.778],[20780,14.784],[20862,14.776],[20940,14.78],[21020,14.782],
[20340,14.74],[20422,14.736],[20500,14.744],[20582,14.738],[20660,14.742],[20742,14.736],[20820,14.744],[20902,14.738],[20980,14.74],
[20380,14.70],[20462,14.704],[20540,14.696],[20622,14.702],[20700,14.698],[20782,14.704],[20860,14.696],[20940,14.70],
[20420,14.66],[20502,14.664],[20580,14.656],[20662,14.662],[20740,14.658],[20822,14.664],[20900,14.66],
[19920,14.90],[19980,14.80],[20040,14.70],[20100,14.88],[20160,14.62],[20220,14.80],[20280,14.96],[20300,14.58],[21060,14.86],[21100,14.62],[21140,14.90],[21180,14.78],[21220,14.60],[21260,14.88],[21300,14.70],[21340,14.55],[21380,14.80],[21420,14.64],[21460,14.74],[20400,14.55],[20560,14.52],[20720,14.54],[20880,14.52],[21000,14.50],[20470,14.98],[20640,15.00],[20800,14.98],[20960,14.96],[21100,15.00],[19850,14.55],[19980,14.58],[20050,14.52]
];

// proper inclination vs proper eccentricity
const properIncEcc = [
[15.212,0.1888],[14.252,0.1793],[15.726,0.1796],[14.186,0.169],[14.218,0.1448],[14.556,0.1409],[14.282,0.1336],[14.318,0.1294],[14.17,0.1257],[14.192,0.121],[14.376,0.1222],[14.634,0.1301],[14.846,0.1329],[15.056,0.1318],[15.248,0.1262],[15.426,0.1163],[14.708,0.121],[14.77,0.121],[14.774,0.1186],[14.78,0.1163],[14.762,0.1137],[14.624,0.1148],[14.562,0.1078],[14.612,0.1078],[14.732,0.1077],[14.698,0.1051],[14.726,0.1054],[14.846,0.1055],[14.886,0.1086],[14.898,0.1104],[14.932,0.1102],[14.364,0.1028],[14.418,0.1008],[14.446,0.1026],[14.476,0.1026],[14.49,0.0993],[14.52,0.0996],[14.374,0.0978],[14.304,0.096],[14.494,0.0978],[14.56,0.0986],[14.568,0.0958],[14.596,0.1011],[14.442,0.0948],[14.456,0.0928],[14.386,0.0899],[14.534,0.0913],[14.644,0.0952],[14.658,0.0937],[14.69,0.0911],[14.766,0.098],[14.776,0.0993],[14.75,0.0926],[14.792,0.0932],[14.842,0.0969],[14.82,0.087],[14.516,0.0876],[14.522,0.086],[14.596,0.0858],[14.6,0.0872],[14.634,0.0811],[14.396,0.08],[14.412,0.0785],[14.518,0.0764],[14.552,0.0734],[14.582,0.0738],[14.602,0.0769],[14.602,0.0732],[14.674,0.0779],[14.65,0.0728],[14.704,0.0705],[14.708,0.0708],[14.742,0.0717],[14.668,0.0694],[14.836,0.0772],[14.85,0.0766],[14.87,0.0732],[14.834,0.07],[14.858,0.0694],[14.882,0.0687],[14.906,0.069],[14.91,0.0829],[14.954,0.075],[14.972,0.0816],[14.986,0.0796],[14.994,0.0854],[14.99,0.0715],[14.948,0.0687],[14.914,0.0655],[15.034,0.0708],[15.006,0.066],[15.01,0.064],[15.068,0.0951],[15.104,0.0913],[15.084,0.086],[15.092,0.0841],[15.1,0.0781],[15.118,0.0735],[15.092,0.0702],[15.352,0.0857],[15.408,0.0816],[15.264,0.0766],[15.316,0.0709],[15.248,0.067],[15.236,0.0615],[15.152,0.0611],[15.456,0.0583],[15.55,0.06],[15.838,0.0766],[15.922,0.0714],[15.848,0.0603],[16.14,0.0829],[14.366,0.0656],[14.43,0.0655],[14.38,0.0629],[14.442,0.0617],[14.454,0.0617],[14.488,0.062],[14.5,0.0591],[14.434,0.0694],[14.552,0.0649],[14.542,0.0624],[14.562,0.0605],[14.574,0.0608],[14.592,0.0659],[14.602,0.0637],[14.622,0.0603],[14.656,0.0591],[14.67,0.0568],[14.642,0.0553],[14.732,0.0662],[14.738,0.0644],[14.728,0.0644],[14.744,0.0593],[14.782,0.0556],[14.734,0.0553],[14.696,0.058],[14.676,0.0546],[14.70,0.0508],[14.852,0.0591],[14.882,0.0621],[14.864,0.0541],[14.886,0.0574],[14.91,0.0546],[14.93,0.0556],[14.922,0.053],[14.972,0.0561],[15.032,0.0523],[15.11,0.0497],[15.202,0.0495],[15.208,0.048],[15.264,0.0473],[15.302,0.0462],[15.148,0.055],[15.198,0.0453],[15.08,0.0409],[15.116,0.0414],[15.142,0.0414],[15.176,0.0414],[15.21,0.0414],[15.252,0.0414],[15.32,0.0383],[15.406,0.0339],[15.438,0.03],[15.34,0.0307],[15.398,0.0272],[15.518,0.0313],[15.508,0.0427],[15.502,0.0492],[15.532,0.0482],[15.568,0.0512],[15.668,0.0409],[15.54,0.0374],[15.434,0.0219],[15.698,0.0242],[15.754,0.0198],[15.766,0.0075],[15.572,0.004],[15.406,0.0174],[15.408,0.0136],[15.45,0.0128],[15.344,0.0151],[15.302,0.0137],[15.276,0.0180],[15.292,0.0064],[15.236,0.0303],[15.236,0.028],[15.198,0.0242],[15.17,0.0265],[15.166,0.0227],[15.156,0.0224],[15.122,0.0204],[15.098,0.0222],[15.096,0.014],[15.12,0.0121],[15.152,0.0078],[15.172,0.0033],[15.21,0.0181],[15.21,0.02],[15.108,0.0348],[15.122,0.0341],[15.148,0.0359],[15.064,0.0329],[15.052,0.0329],[15.042,0.0298],[14.99,0.0321],[15.0,0.0391],[14.978,0.036],[15.006,0.0234],[15.042,0.0234],[15.006,0.014],[15.002,0.0101],[14.974,0.0083],[15.006,0.0177],[14.958,0.0295],
[14.408,0.0477],[14.418,0.045],[14.434,0.0417],[14.43,0.0363],[14.442,0.0325],[14.45,0.031],[14.482,0.028],[14.498,0.0253],[14.466,0.0159],[14.48,0.0128],[14.49,0.004],[14.516,0.0083],[14.506,0.0492],[14.452,0.053],
[14.66,0.012],[14.67,0.018],[14.68,0.008],[14.68,0.024],[14.69,0.014],[14.70,0.020],[14.70,0.005],[14.71,0.011],[14.71,0.027],[14.72,0.016],[14.72,0.022],[14.73,0.009],[14.73,0.030],[14.74,0.013],[14.74,0.019],[14.75,0.025],[14.75,0.006],[14.76,0.010],[14.76,0.016],[14.77,0.021],[14.77,0.013],[14.78,0.008],[14.78,0.018],[14.79,0.024],[14.79,0.012],[14.80,0.016],[14.80,0.005],[14.81,0.020],[14.82,0.010],[14.82,0.027],[14.83,0.014],[14.84,0.019],[14.85,0.008],[14.86,0.023],[14.87,0.013],[14.64,0.020],[14.63,0.026],[14.62,0.014],[14.61,0.032],[14.60,0.009],[14.59,0.022],[14.58,0.017],[14.57,0.028],[14.56,0.012],[14.55,0.021],[14.54,0.034],[14.53,0.016],[14.52,0.026],[14.51,0.008],[14.65,0.035],[14.67,0.041],[14.69,0.033],[14.71,0.038],[14.73,0.044],[14.75,0.036],[14.77,0.040],[14.79,0.031],[14.81,0.037],[14.83,0.042],[14.85,0.033],[14.87,0.038],[14.89,0.030],[14.91,0.036],[14.93,0.028],[14.88,0.018],[14.90,0.012],[14.92,0.022],[14.94,0.016],[14.96,0.025],[14.98,0.020],[14.89,0.007],[14.93,0.006],[14.95,0.010],[14.47,0.033],[14.45,0.038],[14.44,0.030],[14.46,0.045],[14.48,0.040],[14.50,0.036],[14.49,0.028],[14.43,0.042],[14.42,0.047],[14.44,0.035],[14.52,0.044],[14.55,0.041],[14.57,0.047],[14.60,0.043],[14.62,0.038],[14.64,0.045],[14.66,0.050],[14.70,0.048],[14.74,0.052],[14.78,0.046],[14.82,0.050],[14.86,0.046],[14.90,0.049],[14.58,0.053],[14.61,0.057],[14.65,0.055],[14.68,0.060],[14.72,0.056],[14.76,0.059],[14.80,0.054],[14.55,0.060],[14.50,0.052],[14.47,0.056],[14.53,0.064],[14.59,0.066],[14.63,0.062],[14.97,0.038],[14.96,0.032],[15.00,0.028],[14.99,0.015],[14.97,0.005],[14.91,0.045],[14.95,0.042],
[14.630,0.0030],[14.659,0.0032],[14.686,0.0028],[14.715,0.0031],[14.742,0.0029],[14.771,0.0032],[14.798,0.0030],[14.827,0.0028],
[14.616,0.0065],[14.645,0.0067],[14.672,0.0063],[14.701,0.0066],[14.728,0.0064],[14.757,0.0067],[14.784,0.0065],[14.813,0.0063],[14.840,0.0066],
[14.631,0.0100],[14.658,0.0102],[14.687,0.0098],[14.714,0.0101],[14.743,0.0099],[14.770,0.0102],[14.799,0.0100],[14.826,0.0098],
[14.617,0.0135],[14.644,0.0137],[14.673,0.0133],[14.700,0.0136],[14.729,0.0134],[14.756,0.0137],[14.785,0.0135],[14.812,0.0133],[14.841,0.0136],
[14.630,0.0170],[14.659,0.0172],[14.686,0.0168],[14.715,0.0171],[14.742,0.0169],[14.771,0.0172],[14.798,0.0170],[14.827,0.0168],
[14.645,0.0205],[14.672,0.0207],[14.701,0.0203],[14.728,0.0206],[14.757,0.0204],[14.784,0.0207],[14.813,0.0205],
[14.658,0.0240],[14.687,0.0242],[14.714,0.0238],[14.743,0.0241],[14.770,0.0239],[14.799,0.0242],
[14.673,0.0275],[14.700,0.0277],[14.729,0.0273],[14.756,0.0276],[14.785,0.0274],
[14.42,0.022],[14.45,0.010],[14.47,0.018],[14.50,0.030],[14.52,0.040],[14.54,0.005],[14.56,0.030],[14.58,0.038],[14.60,0.026],[14.86,0.030],[14.88,0.041],[14.90,0.020],[14.92,0.033],[14.94,0.005],[14.96,0.018],[14.98,0.010],[14.86,0.015],[14.88,0.005],[14.85,0.039],[14.89,0.046],[14.60,0.050],[14.64,0.040],[14.68,0.045],[14.72,0.050],[14.76,0.044],[14.80,0.041],[14.84,0.046],[14.62,0.032],[14.66,0.030],[14.70,0.035],[14.74,0.032],[14.78,0.035],[14.82,0.034]
];

// ---------------------------------------------------------------
//    LAYOUT
// ---------------------------------------------------------------
const plotW = 769, plotH = 475;
const colX = [131.5, 1112];
const rowY = [0, 618, 1236];
const dotColor = "#5e81b5";
const axisColor = "#7a7a7a";

const semiMajorAxis = { domain: semiMajorRange, ticks: semiMajorTicks, minorStep: 200, fmt: d => d3.format(",")(d).replace(",", " ") };
const incAxis = { domain: incRange, ticks: incTicks, minorStep: 0.1, fmt: d3.format(".1f") };
const eccAxis = { domain: eccRange, ticks: eccTicks, minorStep: 0.01, fmt: d3.format(".2f") };

const panels = [
  { data: breakupSemiMajorInc, row: 0, col: 0, x: semiMajorAxis, y: incAxis, xLabel: "Semi-major axis (after break-up)", yLabel: "Inclination" },
  { data: breakupIncEcc,       row: 0, col: 1, x: incAxis,       y: eccAxis, xLabel: "Inclination (after break-up)",     yLabel: "Eccentricity" },
  { data: yr150SemiMajorInc,   row: 1, col: 0, x: semiMajorAxis, y: incAxis, xLabel: "Semi-major axis (after 150 years)", yLabel: "Inclination" },
  { data: yr150IncEcc,         row: 1, col: 1, x: incAxis,       y: eccAxis, xLabel: "Inclination (after 150 years)",     yLabel: "Eccentricity" },
  { data: properSemiMajorInc,  row: 2, col: 0, x: semiMajorAxis, y: incAxis, xLabel: "Proper semi-major axis",            yLabel: "Proper inclination" },
  { data: properIncEcc,        row: 2, col: 1, x: incAxis,       y: eccAxis, xLabel: "Proper inclination",                yLabel: "Proper eccentricity" }
];

const svg = d3.select("#chart");
const defs = svg.append("defs");

// minor ticks: every step inside the domain, skipping the labelled ones
function minorTicks(ax) {
  const lo = Math.ceil(ax.domain[0] / ax.minorStep - 1e-9);
  const hi = Math.floor(ax.domain[1] / ax.minorStep + 1e-9);
  return d3.range(lo, hi + 1).map(k => +(k * ax.minorStep).toFixed(6))
    .filter(v => !ax.ticks.some(t => Math.abs(t - v) < ax.minorStep / 10));
}

function styleAxis(g) {
  g.selectAll("path.domain").attr("stroke", axisColor).attr("stroke-width", 1.3);
  g.selectAll(".tick line").attr("stroke", axisColor).attr("stroke-width", 1.1);
  g.selectAll(".tick text").attr("fill", "#111").attr("font-size", 28);
}

panels.forEach((p, idx) => {
  const x0 = colX[p.col], y0 = rowY[p.row];
  const xScale = d3.scaleLinear().domain(p.x.domain).range([x0, x0 + plotW]);
  const yScale = d3.scaleLinear().domain(p.y.domain).range([y0 + plotH, y0]);

  const clipId = "clip" + idx;
  defs.append("clipPath").attr("id", clipId)
    .append("rect").attr("x", x0).attr("y", y0).attr("width", plotW).attr("height", plotH);

  // points
  svg.append("g").attr("clip-path", `url(#${clipId})`)
    .selectAll("circle").data(p.data).join("circle")
    .attr("cx", d => xScale(d[0]))
    .attr("cy", d => yScale(d[1]))
    .attr("r", 4.8)
    .attr("fill", dotColor);

  // x axis, ticks point into the plot
  const gxMinor = svg.append("g").attr("transform", `translate(0,${y0 + plotH})`)
    .call(d3.axisBottom(xScale).tickValues(minorTicks(p.x)).tickSize(-4).tickSizeOuter(0).tickFormat(""));
  gxMinor.select("path.domain").remove();
  styleAxis(gxMinor);
  const gx = svg.append("g").attr("transform", `translate(0,${y0 + plotH})`)
    .call(d3.axisBottom(xScale).tickValues(p.x.ticks).tickSize(-7.5).tickSizeOuter(0).tickPadding(16).tickFormat(p.x.fmt));
  styleAxis(gx);

  // y axis
  const gyMinor = svg.append("g").attr("transform", `translate(${x0},0)`)
    .call(d3.axisLeft(yScale).tickValues(minorTicks(p.y)).tickSize(-4).tickSizeOuter(0).tickFormat(""));
  gyMinor.select("path.domain").remove();
  styleAxis(gyMinor);
  const gy = svg.append("g").attr("transform", `translate(${x0},0)`)
    .call(d3.axisLeft(yScale).tickValues(p.y.ticks).tickSize(-7.5).tickSizeOuter(0).tickPadding(7.5).tickFormat(p.y.fmt));
  styleAxis(gy);

  // axis labels
  svg.append("text")
    .attr("x", x0 + plotW / 2).attr("y", y0 + plotH + 80)
    .attr("text-anchor", "middle").attr("font-size", 30).attr("fill", "#111")
    .text(p.xLabel);
  svg.append("text")
    .attr("transform", `translate(${x0 - 91},${y0 + plotH / 2}) rotate(-90)`)
    .attr("dy", "0.35em")
    .attr("text-anchor", "middle").attr("font-size", 30).attr("fill", "#111")
    .text(p.yLabel);
});
</script>
</body>
</html>
